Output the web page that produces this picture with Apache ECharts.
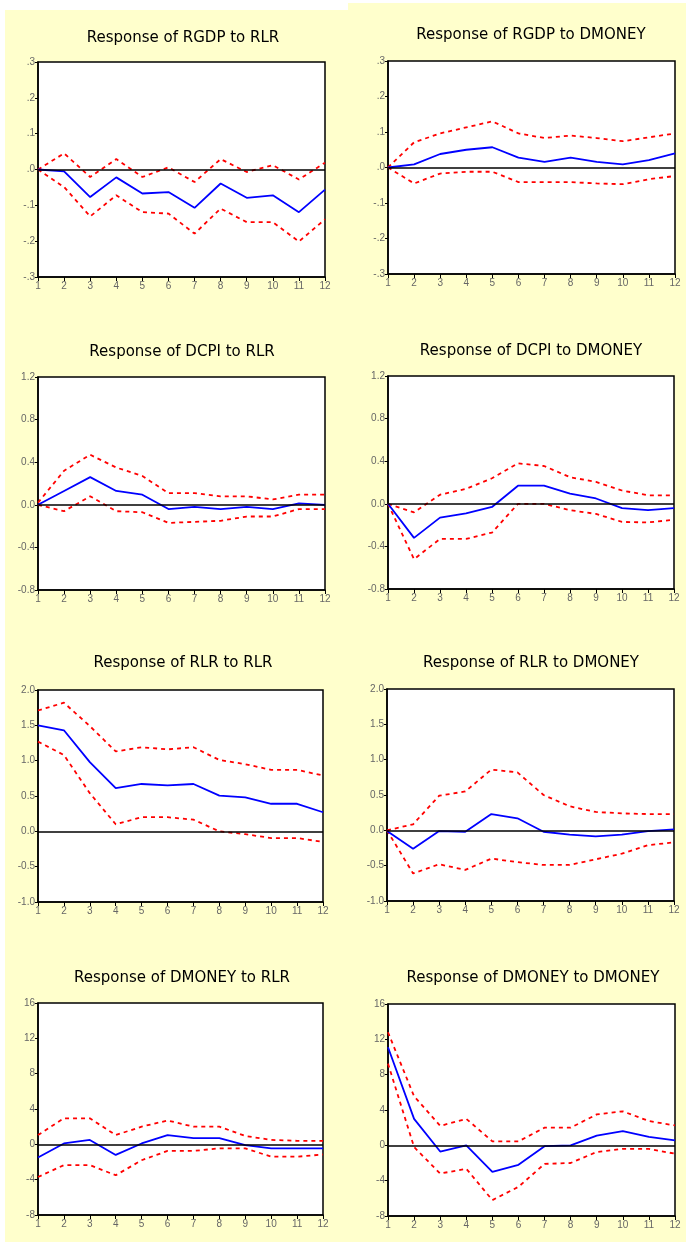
<!DOCTYPE html>
<html>
<head>
<meta charset="utf-8">
<script src="https://cdn.jsdelivr.net/npm/echarts@6/dist/echarts.min.js"></script>
<style>
html, body { margin: 0; padding: 0; background: #fff; }
#chart { width: 686px; height: 1247px; }
</style>
</head>
<body>
<div id="chart"></div>
<script>
// periods on the x axis
var periods = ['1', '2', '3', '4', '5', '6', '7', '8', '9', '10', '11', '12'];

// Response of RGDP to RLR
var rgdpRlr   = [0.0, -0.005, -0.077, -0.022, -0.067, -0.063, -0.107, -0.039, -0.079, -0.072, -0.119, -0.056];
var rgdpRlrUp = [0.0, 0.045, -0.021, 0.029, -0.021, 0.006, -0.035, 0.029, -0.007, 0.012, -0.028, 0.019];
var rgdpRlrLo = [0.0, -0.049, -0.131, -0.072, -0.119, -0.123, -0.179, -0.109, -0.147, -0.147, -0.201, -0.139];

// Response of RGDP to DMONEY
var rgdpMon   = [0.0, 0.009, 0.038, 0.05, 0.057, 0.028, 0.016, 0.028, 0.016, 0.009, 0.021, 0.04];
var rgdpMonUp = [0.0, 0.071, 0.096, 0.113, 0.13, 0.096, 0.083, 0.09, 0.083, 0.074, 0.085, 0.096];
var rgdpMonLo = [0.0, -0.045, -0.017, -0.012, -0.012, -0.041, -0.041, -0.041, -0.045, -0.047, -0.033, -0.024];

// Response of DCPI to RLR
var dcpiRlr   = [0.0, 0.13, 0.26, 0.13, 0.095, -0.04, -0.02, -0.04, -0.02, -0.04, 0.013, 0.0];
var dcpiRlrUp = [0.02, 0.32, 0.47, 0.35, 0.27, 0.11, 0.11, 0.08, 0.08, 0.05, 0.095, 0.095];
var dcpiRlrLo = [0.0, -0.06, 0.08, -0.06, -0.07, -0.17, -0.16, -0.15, -0.11, -0.11, -0.04, -0.04];

// Response of DCPI to DMONEY
var dcpiMon   = [0.0, -0.32, -0.13, -0.09, -0.03, 0.17, 0.17, 0.095, 0.05, -0.04, -0.06, -0.04];
var dcpiMonUp = [0.0, -0.08, 0.085, 0.14, 0.24, 0.38, 0.355, 0.25, 0.205, 0.125, 0.08, 0.08];
var dcpiMonLo = [0.0, -0.52, -0.33, -0.33, -0.27, 0.0, 0.0, -0.06, -0.095, -0.17, -0.175, -0.15];

// Response of RLR to RLR
var rlrRlr   = [1.5, 1.43, 0.98, 0.61, 0.67, 0.65, 0.67, 0.505, 0.48, 0.39, 0.39, 0.27];
var rlrRlrUp = [1.71, 1.82, 1.49, 1.13, 1.19, 1.16, 1.19, 1.01, 0.95, 0.87, 0.87, 0.79];
var rlrRlrLo = [1.27, 1.08, 0.54, 0.1, 0.2, 0.2, 0.165, 0.0, -0.04, -0.095, -0.095, -0.15];

// Response of RLR to DMONEY
var rlrMon   = [-0.01, -0.26, -0.01, -0.02, 0.23, 0.17, -0.02, -0.06, -0.085, -0.06, -0.01, 0.015];
var rlrMonUp = [0.0, 0.085, 0.49, 0.55, 0.86, 0.82, 0.5, 0.34, 0.26, 0.24, 0.23, 0.23];
var rlrMonLo = [0.0, -0.61, -0.48, -0.56, -0.4, -0.45, -0.49, -0.49, -0.41, -0.33, -0.21, -0.17];

// Response of DMONEY to RLR
var monRlr   = [-1.5, 0.1, 0.5, -1.2, 0.1, 1.05, 0.7, 0.7, -0.1, -0.45, -0.45, -0.45];
var monRlrUp = [1.05, 2.95, 2.95, 1.05, 2.0, 2.7, 2.0, 2.0, 0.95, 0.5, 0.4, 0.4];
var monRlrLo = [-3.7, -2.35, -2.35, -3.5, -1.8, -0.75, -0.75, -0.45, -0.45, -1.4, -1.4, -1.15];

// Response of DMONEY to DMONEY
var monMon   = [11.1, 3.0, -0.7, 0.0, -3.0, -2.2, -0.1, 0.0, 1.1, 1.6, 0.95, 0.55];
var monMonUp = [12.8, 5.55, 2.2, 3.0, 0.45, 0.45, 2.0, 2.0, 3.5, 3.85, 2.75, 2.25];
var monMonLo = [9.25, -0.2, -3.2, -2.65, -6.2, -4.7, -2.1, -2.0, -0.75, -0.4, -0.4, -0.95];

function fmtDot(v) {
  var s = Math.abs(v).toFixed(1).replace('0.', '.');
  return (v < -1e-9 ? '-' : '') + s;
}
function fmtOne(v) { return (Math.abs(v) < 1e-9 ? 0 : v).toFixed(1); }
function fmtInt(v) { return String(Math.round(v)); }

var panels = [
  { title: 'Response of RGDP to RLR', mid: rgdpRlr, up: rgdpRlrUp, lo: rgdpRlrLo, min: -0.3, max: 0.3, step: 0.1, fmt: fmtDot,
    left: 38, top: 62, width: 287, height: 215, tx: 183, ty: 38 },
  { title: 'Response of RGDP to DMONEY', mid: rgdpMon, up: rgdpMonUp, lo: rgdpMonLo, min: -0.3, max: 0.3, step: 0.1, fmt: fmtDot,
    left: 388, top: 61, width: 287, height: 213, tx: 531, ty: 35 },
  { title: 'Response of DCPI to RLR', mid: dcpiRlr, up: dcpiRlrUp, lo: dcpiRlrLo, min: -0.8, max: 1.2, step: 0.4, fmt: fmtOne,
    left: 38, top: 377, width: 287, height: 213, tx: 182, ty: 352 },
  { title: 'Response of DCPI to DMONEY', mid: dcpiMon, up: dcpiMonUp, lo: dcpiMonLo, min: -0.8, max: 1.2, step: 0.4, fmt: fmtOne,
    left: 388, top: 376, width: 286, height: 213, tx: 531, ty: 351 },
  { title: 'Response of RLR to RLR', mid: rlrRlr, up: rlrRlrUp, lo: rlrRlrLo, min: -1.0, max: 2.0, step: 0.5, fmt: fmtOne,
    left: 38, top: 690, width: 285, height: 212, tx: 183, ty: 663 },
  { title: 'Response of RLR to DMONEY', mid: rlrMon, up: rlrMonUp, lo: rlrMonLo, min: -1.0, max: 2.0, step: 0.5, fmt: fmtOne,
    left: 387, top: 689, width: 287, height: 212, tx: 531, ty: 663 },
  { title: 'Response of DMONEY to RLR', mid: monRlr, up: monRlrUp, lo: monRlrLo, min: -8, max: 16, step: 4, fmt: fmtInt,
    left: 38, top: 1003, width: 285, height: 212, tx: 182, ty: 978 },
  { title: 'Response of DMONEY to DMONEY', mid: monMon, up: monMonUp, lo: monMonLo, min: -8, max: 16, step: 4, fmt: fmtInt,
    left: 388, top: 1004, width: 287, height: 212, tx: 533, ty: 978 }
];

var grids = [], xAxes = [], yAxes = [], series = [];
var graphics = [
  { type: 'rect', z: -10, shape: { x: 5, y: 10, width: 343, height: 1232 }, style: { fill: '#ffffcc' } },
  { type: 'rect', z: -10, shape: { x: 348, y: 3, width: 338, height: 1239 }, style: { fill: '#ffffcc' } }
];
var labelStyle = { color: '#666', fontSize: 10, fontFamily: 'Liberation Sans' };

panels.forEach(function (p, i) {
  grids.push({
    left: p.left, top: p.top, width: p.width, height: p.height,
    show: true, backgroundColor: '#fff', borderColor: '#000', borderWidth: 1.5
  });
  xAxes.push({
    type: 'category', gridIndex: i, data: periods, boundaryGap: false,
    axisLine: { onZero: false, lineStyle: { color: '#000', width: 1.5 } },
    axisTick: { alignWithLabel: true, length: 4, lineStyle: { color: '#000' } },
    axisLabel: Object.assign({ margin: 4, interval: 0 }, labelStyle),
    splitLine: { show: false }
  });
  yAxes.push({
    type: 'value', gridIndex: i, min: p.min, max: p.max, interval: p.step,
    axisLine: { show: true, lineStyle: { color: '#000', width: 1.5 } },
    axisTick: { show: true, length: 3, lineStyle: { color: '#000' } },
    axisLabel: Object.assign({ margin: 3, formatter: p.fmt }, labelStyle),
    splitLine: { show: false }
  });
  series.push({
    type: 'line', xAxisIndex: i, yAxisIndex: i, data: p.mid, symbol: 'none',
    lineStyle: { color: '#0000ff', width: 1.8 }, z: 3,
    markLine: {
      silent: true, symbol: 'none', label: { show: false },
      lineStyle: { color: '#000', type: 'solid', width: 1.5 },
      data: [{ yAxis: 0 }]
    }
  });
  series.push({
    type: 'line', xAxisIndex: i, yAxisIndex: i, data: p.up, symbol: 'none',
    lineStyle: { color: '#ff0000', width: 1.8, type: [4, 4] }, z: 2
  });
  series.push({
    type: 'line', xAxisIndex: i, yAxisIndex: i, data: p.lo, symbol: 'none',
    lineStyle: { color: '#ff0000', width: 1.8, type: [4, 4] }, z: 2
  });
  graphics.push({
    type: 'text', x: p.tx, y: p.ty,
    style: { text: p.title, textAlign: 'center', textVerticalAlign: 'middle',
             font: '15px "DejaVu Sans"', fill: '#000' }
  });
});

var myChart = echarts.init(document.getElementById('chart'));
myChart.setOption({
  animation: false,
  backgroundColor: 'transparent',
  graphic: graphics,
  grid: grids,
  xAxis: xAxes,
  yAxis: yAxes,
  series: series
});
</script>
</body>
</html>
